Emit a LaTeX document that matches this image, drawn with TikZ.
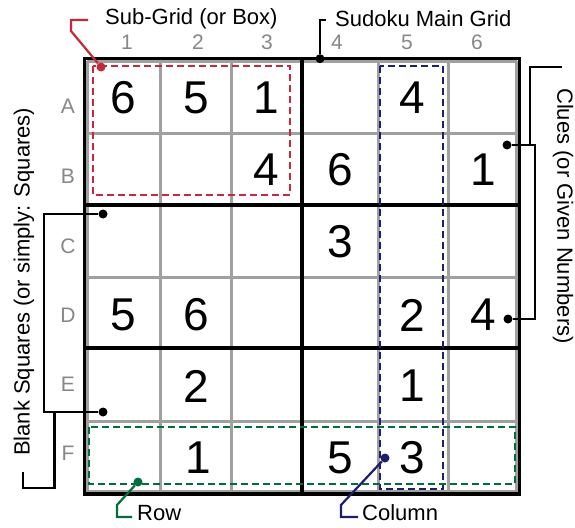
\documentclass[tikz,border=0pt]{standalone}
\usepackage{fontspec}
\setmainfont{Liberation Sans}
\definecolor{gridgray}{RGB}{160,160,160}
\definecolor{labgray}{RGB}{135,135,135}
\definecolor{boxred}{RGB}{200,40,55}
\definecolor{colblue}{RGB}{30,30,110}
\definecolor{rowgreen}{RGB}{0,110,60}
\begin{document}
\begin{tikzpicture}[x=1pt,y=-1pt,
  gridline/.style={gridgray, line width=3pt},
  heavyline/.style={black, line width=4pt},
  borderline/.style={black, line width=3.2pt},
  clue/.style={font=\fontsize{46}{46}\selectfont, inner sep=0pt},
  lab/.style={font=\fontsize{21}{21}\selectfont, text=labgray, inner sep=0pt},
  callout/.style={font=\fontsize{22}{22}\selectfont, inner sep=0pt},
  dotnode/.style={circle, fill, inner sep=0pt, minimum size=9pt},
  leader/.style={line width=2.2pt},
  dashbox/.style={line width=2.2pt, dash pattern=on 7pt off 4pt}]
\fill[white] (0,0) rectangle (575,527);
\useasboundingbox (0,0) rectangle (575,527);

% grid
\foreach \x in {87.3,160,231,302,378,448,516.5} \draw[gridline] (\x,61.5) -- (\x,491.5);
\foreach \y in {61.5,133,204.5,277.5,348,421,491.5} \draw[gridline] (87.3,\y) -- (516.5,\y);
\draw[borderline] (84.7,58.7) rectangle (519.5,494);
\draw[heavyline] (302,58.7) -- (302,494);
\draw[heavyline] (84.7,204.5) -- (519.5,204.5);
\draw[heavyline] (84.7,348) -- (519.5,348);

% column and row labels
\foreach \t/\x in {1/127,2/198,3/267,4/337,5/407,6/477}
  \node[lab] (col\t) at (\x,42) {\t};
\foreach \t/\y in {A/106,B/176,C/246,D/315,E/384,F/453}
  \node[lab] (row\t) at (68,\y) {\t};

% clues
\foreach \t/\x/\y in {6/123.6/98, 5/196/98, 1/266.5/98, 4/412/98,
  4/266.5/170, 6/340/170, 1/483/170,
  3/340/242,
  5/123.6/315, 6/196/315, 2/412/315, 4/483/315,
  2/196/386, 1/412/386,
  1/198/458, 5/340/458, 3/412/458}
  \node[clue] at (\x,\y) {\t};

% dashed boxes
\draw[dashbox, boxred] (93,66) rectangle (290,195);
\draw[dashbox, colblue] (380,66) rectangle (443,489);
\draw[dashbox, rowgreen] (89.3,427) rectangle (515,484);

% Sub-Grid callout
\node[dotnode, boxred] (sg) at (101,67) {};
\coordinate (sg1) at (71,31);
\coordinate (sg2) at (71,20);
\coordinate (sg3) at (88,20);
\draw[leader, boxred] (sg) -- (sg1) -- (sg2) -- (sg3);
\node[callout, anchor=west] (sgt) at (105,19) {Sub-Grid (or Box)};

% Main grid callout
\node[dotnode] (mg) at (320,58.7) {};
\coordinate (mg1) at (320,20);
\coordinate (mg2) at (326,20);
\draw[leader] (mg) -- (mg1) -- (mg2);
\node[callout, anchor=west] (mgt) at (335,19) {Sudoku Main Grid};

% Clues callout
\node[dotnode] (cl1) at (507,145) {};
\node[dotnode] (cl2) at (508,319) {};
\coordinate (cla) at (535,145);
\coordinate (clb) at (535,319);
\draw[leader] (cl1) -- (cla) -- (clb) -- (cl2);
\coordinate (clt0) at (530,145);
\coordinate (clt1) at (530,66.7);
\coordinate (clt2) at (562,66.7);
\draw[leader] (clt0) -- (clt1) -- (clt2);
\node[callout, rotate=-90, anchor=west] (clt) at (563,88) {Clues (or Given Numbers)};

% Blank squares callout
\node[dotnode] (bs1) at (103,214) {};
\node[dotnode] (bs2) at (103,412) {};
\coordinate (bsa) at (44,214);
\coordinate (bsb) at (44,412);
\draw[leader] (bs1) -- (bsa) -- (bsb) -- (bs2);
\coordinate (bst0) at (54.5,412);
\coordinate (bst1) at (54.5,488);
\coordinate (bst2) at (23,488);
\coordinate (bst3) at (23,472);
\draw[leader] (bst0) -- (bst1) -- (bst2) -- (bst3);
\node[callout, rotate=90, anchor=west] (bst) at (24,456) {Blank Squares (or simply: Squares)};

% Row callout
\node[dotnode, rowgreen] (rw) at (138,482) {};
\coordinate (rw1) at (117,505);
\coordinate (rw2) at (117,517);
\coordinate (rw3) at (132,517);
\draw[leader, rowgreen] (rw) -- (rw1) -- (rw2) -- (rw3);
\node[callout, anchor=west] (rwt) at (137,513) {Row};

% Column callout
\node[dotnode, colblue] (cd) at (385,458) {};
\coordinate (cd1) at (341,505);
\coordinate (cd2) at (341,517);
\coordinate (cd3) at (358,517);
\draw[leader, colblue] (cd) -- (cd1) -- (cd2) -- (cd3);
\node[callout, anchor=west] (cdt) at (362,513) {Column};
\end{tikzpicture}
\end{document}
